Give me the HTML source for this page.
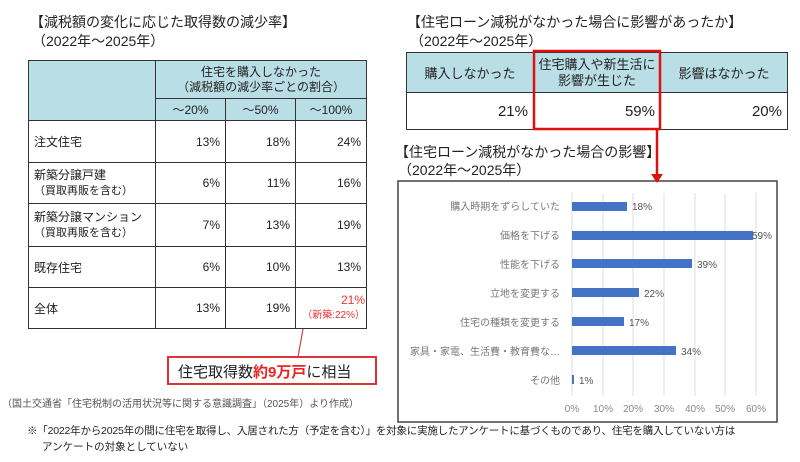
<!DOCTYPE html>
<html><head><meta charset="utf-8"><style>
body{margin:0;width:800px;height:462px;background:#fff;position:relative;overflow:hidden;font-family:"Liberation Sans","Noto Sans CJK JP",sans-serif;color:#222}
.a{position:absolute;white-space:nowrap}
table{border-collapse:collapse;position:absolute;font-size:12px;table-layout:fixed}
td{border:1.5px solid #333;padding:0 5px;white-space:nowrap;overflow:visible}
.h{background:#b9dee5;text-align:center}
.r{text-align:right}
</style></head><body>
<div class="a" style="left:30px;top:12px;font-size:14px">【減税額の変化に応じた取得数の減少率】</div>
<div class="a" style="left:32px;top:31px;font-size:14px">（2022年～2025年）</div>
<table style="left:28px;top:60px;width:338px">
<colgroup><col style="width:127px"><col style="width:70px"><col style="width:70px"><col style="width:71px"></colgroup>
<tr style="height:38px"><td class="h" rowspan="2"></td><td class="h" colspan="3" style="line-height:15px">住宅を購入しなかった<br>（減税額の減少率ごとの割合）</td></tr>
<tr style="height:22px"><td class="h">～20%</td><td class="h">～50%</td><td class="h">～100%</td></tr>
<tr style="height:42px"><td>注文住宅</td><td class="r">13%</td><td class="r">18%</td><td class="r">24%</td></tr>
<tr style="height:41px"><td style="line-height:15px">新築分譲戸建<br><span style="font-size:11px">（買取再販を含む）</span></td><td class="r">6%</td><td class="r">11%</td><td class="r">16%</td></tr>
<tr style="height:43px"><td style="line-height:15px">新築分譲マンション<br><span style="font-size:11px">（買取再販を含む）</span></td><td class="r">7%</td><td class="r">13%</td><td class="r">19%</td></tr>
<tr style="height:41px"><td>既存住宅</td><td class="r">6%</td><td class="r">10%</td><td class="r">13%</td></tr>
<tr style="height:41px"><td>全体</td><td class="r">13%</td><td class="r">19%</td><td class="r" style="color:#e33;line-height:14px;padding:0 1px">21%<br><span style="font-size:10px">（新築:22%）</span></td></tr>
</table>
<svg class="a" style="left:0;top:0" width="800" height="462">
<line x1="303" y1="329" x2="298" y2="357" stroke="#c44" stroke-width="1.2"/>
<rect x="168" y="357" width="208" height="27" fill="#fff" stroke="#d33" stroke-width="2"/>
</svg>
<div class="a" style="left:178px;top:361px;font-size:15px">住宅取得数<b style="color:#e22">約9万戸</b>に相当</div>
<div class="a" style="left:2px;top:395px;font-size:10px;color:#555">（国土交通省「住宅税制の活用状況等に関する意識調査」（2025年）より作成）</div>
<div class="a" style="left:27px;top:423px;font-size:10.5px;letter-spacing:-0.2px">※「2022年から2025年の間に住宅を取得し、入居された方（予定を含む）」を対象に実施したアンケートに基づくものであり、住宅を購入していない方は</div>
<div class="a" style="left:42px;top:439px;font-size:10.5px">アンケートの対象としていない</div>

<div class="a" style="left:407px;top:12px;font-size:14px">【住宅ローン減税がなかった場合に影響があったか】</div>
<div class="a" style="left:410px;top:31px;font-size:14px">（2022年～2025年）</div>
<table style="left:406px;top:52px;width:381px;font-size:13px">
<colgroup><col style="width:127px"><col style="width:127px"><col style="width:127px"></colgroup>
<tr style="height:40px"><td class="h">購入しなかった</td><td class="h" style="line-height:16px;padding:0">住宅購入や新生活に<br>影響が生じた</td><td class="h">影響はなかった</td></tr>
<tr style="height:37px"><td class="r" style="font-size:15px">21%</td><td class="r" style="font-size:15px">59%</td><td class="r" style="font-size:15px">20%</td></tr>
</table>
<div class="a" style="left:395px;top:142px;font-size:14px">【住宅ローン減税がなかった場合の影響】</div>
<div class="a" style="left:398px;top:160px;font-size:14px">（2022年～2025年）</div>
<svg class="a" style="left:0;top:0" width="800" height="462" font-family="Liberation Sans,Noto Sans CJK JP,sans-serif" font-size="10">
<rect x="398" y="181" width="379" height="241" fill="#fff" stroke="#444" stroke-width="1.5"/>
<rect x="534" y="51" width="126" height="78" fill="none" stroke="#d11" stroke-width="2.5"/>
<line x1="657" y1="129" x2="657" y2="176" stroke="#d11" stroke-width="2.5"/>
<polygon points="651,174 663,174 657,183" fill="#d11"/>
<g stroke="#ddd">
<line x1="572" y1="193" x2="572" y2="396"/><line x1="603" y1="193" x2="603" y2="396"/><line x1="633" y1="193" x2="633" y2="396"/><line x1="664" y1="193" x2="664" y2="396"/><line x1="695" y1="193" x2="695" y2="396"/><line x1="725" y1="193" x2="725" y2="396"/><line x1="756" y1="193" x2="756" y2="396"/>
</g>
<g fill="#4472c4">
<rect x="572" y="202" width="55" height="9"/><rect x="572" y="231" width="181" height="9"/><rect x="572" y="259" width="120" height="9"/><rect x="572" y="288" width="67" height="9"/><rect x="572" y="317" width="52" height="9"/><rect x="572" y="346" width="104" height="9"/><rect x="572" y="375" width="2" height="9"/>
</g>
<g fill="#777" text-anchor="end">
<text x="560" y="210">購入時期をずらしていた</text><text x="560" y="239">価格を下げる</text><text x="560" y="268">性能を下げる</text><text x="560" y="297">立地を変更する</text><text x="560" y="326">住宅の種類を変更する</text><text x="560" y="355">家具・家電、生活費・教育費な…</text><text x="560" y="384">その他</text>
</g>
<g fill="#555">
<text x="632" y="210">18%</text><text x="752" y="239">59%</text><text x="697" y="268">39%</text><text x="644" y="297">22%</text><text x="629" y="326">17%</text><text x="681" y="355">34%</text><text x="579" y="384">1%</text>
</g>
<g fill="#888" text-anchor="middle">
<text x="572" y="412">0%</text><text x="603" y="412">10%</text><text x="633" y="412">20%</text><text x="664" y="412">30%</text><text x="695" y="412">40%</text><text x="725" y="412">50%</text><text x="756" y="412">60%</text>
</g>
</svg>
</body></html>
